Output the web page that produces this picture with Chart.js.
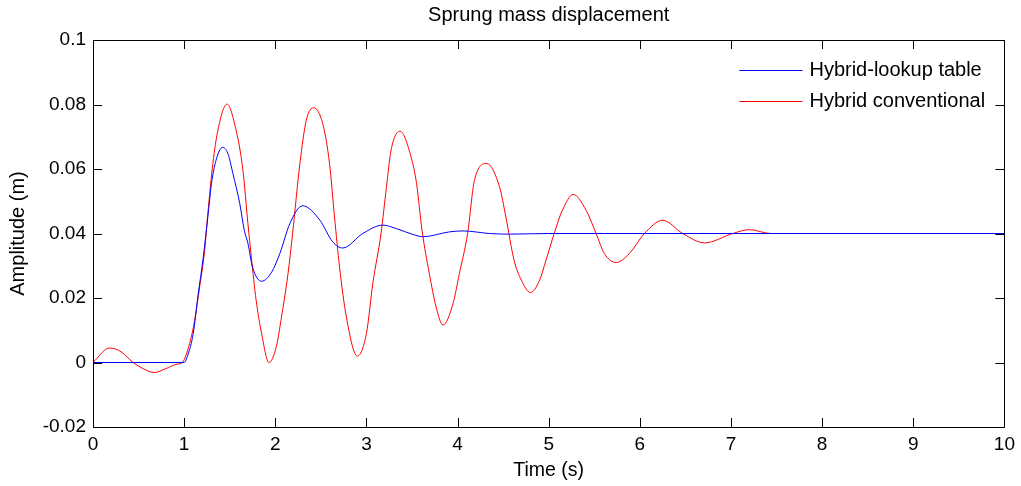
<!DOCTYPE html>
<html>
<head>
<meta charset="utf-8">
<script src="https://cdn.jsdelivr.net/npm/chart.js@4"></script>
<style>
  html, body { margin: 0; padding: 0; background: #fff; }
</style>
</head>
<body>
<canvas id="c" width="1021" height="486"></canvas>
<script>
// ---------- data ----------
const chartTitle = 'Sprung mass displacement';
const xLabel = 'Time (s)';
const yLabel = 'Amplitude (m)';
const seriesNames = ['Hybrid-lookup table', 'Hybrid conventional'];

// Hybrid-lookup table (blue)
const blueTime = [0, 1.0, 1.04, 1.10, 1.15, 1.21, 1.26, 1.30, 1.35, 1.42, 1.48, 1.535, 1.61, 1.66, 1.70, 1.75,
  1.85, 1.96, 2.05, 2.16, 2.30, 2.49, 2.63, 2.74, 2.96, 3.18, 3.33, 3.51, 3.62, 3.91, 4.06, 4.35, 4.57, 5.0, 10];
const blueAmp = [0, 0, 0.0023, 0.009, 0.0203, 0.0327, 0.0451, 0.0555, 0.0627, 0.0667, 0.0648, 0.0586, 0.0493, 0.041, 0.0369, 0.0296,
  0.0252, 0.028, 0.0338, 0.0431, 0.0486, 0.0441, 0.0374, 0.0355, 0.040, 0.0426, 0.0415, 0.0397, 0.039, 0.0405, 0.0408, 0.040, 0.0398, 0.040, 0.040];

// Hybrid conventional (red)
const redTime = [0, 0.18, 0.31, 0.44, 0.55, 0.67, 0.80, 0.91, 0.98, 1.06, 1.115, 1.17, 1.225, 1.26, 1.315, 1.37, 1.47,
  1.57, 1.645, 1.70, 1.737, 1.79, 1.85, 1.93, 2.01, 2.08, 2.14, 2.19, 2.27, 2.34, 2.42, 2.52, 2.595, 2.65, 2.705, 2.78, 2.90,
  3.0, 3.07, 3.16, 3.22, 3.27, 3.37, 3.49, 3.55, 3.61, 3.69, 3.765, 3.84, 3.95, 4.02, 4.11, 4.185, 4.32, 4.46, 4.53,
  4.62, 4.70, 4.80, 4.90, 4.97, 5.06, 5.15, 5.27, 5.41, 5.52, 5.61, 5.74, 5.885, 6.05, 6.25, 6.47, 6.71, 7.02, 7.2, 7.44, 10];
const redAmp = [0, 0.0045, 0.0033, 0, -0.0019, -0.0031, -0.0019, -0.0006, 0, 0.0059, 0.013, 0.0234, 0.0348, 0.0462, 0.0617, 0.072, 0.0801,
  0.072, 0.0596, 0.043, 0.0327, 0.0193, 0.009, 0, 0.0048, 0.0162, 0.0276, 0.040, 0.0617, 0.0751, 0.079, 0.0741, 0.0617, 0.0451, 0.0296, 0.0141, 0.002,
  0.009, 0.0245, 0.040, 0.0545, 0.0658, 0.0717, 0.0637, 0.0555, 0.041, 0.0276, 0.0172, 0.0116, 0.0183, 0.0276, 0.040, 0.0565, 0.0617, 0.0545, 0.0451,
  0.0317, 0.0255, 0.0217, 0.0255, 0.0317, 0.040, 0.0472, 0.0521, 0.0472, 0.040, 0.0338, 0.031, 0.0338, 0.040, 0.0441, 0.040, 0.0371, 0.040, 0.0412, 0.040, 0.040];

const xMin = 0, xMax = 10, xStep = 1;
const yMin = -0.02, yMax = 0.1, yStep = 0.02;

const FONT = 'Liberation Sans, Arial, Helvetica, sans-serif';

function toPoints(xs, ys) {
  return xs.map((x, i) => ({ x: x, y: ys[i] }));
}

// ---------- MATLAB-style frame, inward ticks, title and legend ----------
const matlabFrame = {
  id: 'matlabFrame',
  afterDraw(chart) {
    const { ctx, chartArea: a, scales } = chart;
    const tick = 9;
    ctx.save();
    ctx.strokeStyle = '#000';
    ctx.lineWidth = 1;
    ctx.beginPath();
    ctx.rect(Math.round(a.left) + 0.5, Math.round(a.top) + 0.5,
             Math.round(a.right - a.left), Math.round(a.bottom - a.top));
    scales.x.ticks.forEach(t => {
      const px = Math.round(scales.x.getPixelForValue(t.value)) + 0.5;
      ctx.moveTo(px, a.bottom); ctx.lineTo(px, a.bottom - tick);
      ctx.moveTo(px, a.top); ctx.lineTo(px, a.top + tick);
    });
    scales.y.ticks.forEach(t => {
      const py = Math.round(scales.y.getPixelForValue(t.value)) + 0.5;
      ctx.moveTo(a.left, py); ctx.lineTo(a.left + tick, py);
      ctx.moveTo(a.right, py); ctx.lineTo(a.right - tick, py);
    });
    ctx.stroke();

    // title centred over the axes
    ctx.fillStyle = '#000';
    ctx.font = '20px ' + FONT;
    ctx.textAlign = 'center';
    ctx.textBaseline = 'middle';
    ctx.fillText(chartTitle, (a.left + a.right) / 2, 15.5);

    // legend in the top-right corner
    ctx.font = '20px ' + FONT;
    ctx.textAlign = 'left';
    chart.data.datasets.forEach((ds, i) => {
      const y = Math.round(a.top + 30 + i * 30.5) + 0.5;
      const x0 = a.right - 265;
      ctx.strokeStyle = ds.borderColor;
      ctx.beginPath();
      ctx.moveTo(x0, y); ctx.lineTo(x0 + 63, y);
      ctx.stroke();
      ctx.fillStyle = '#000';
      ctx.fillText(ds.label, x0 + 70, y);
    });
    ctx.restore();
  }
};

new Chart(document.getElementById('c').getContext('2d'), {
  type: 'line',
  data: {
    datasets: [
      {
        label: seriesNames[0],
        data: toPoints(blueTime, blueAmp),
        borderColor: '#0000ff',
        borderWidth: 1,
        pointRadius: 0,
        cubicInterpolationMode: 'monotone',
        fill: false
      },
      {
        label: seriesNames[1],
        data: toPoints(redTime, redAmp),
        borderColor: '#ff0000',
        borderWidth: 1,
        pointRadius: 0,
        cubicInterpolationMode: 'monotone',
        fill: false
      }
    ]
  },
  options: {
    responsive: false,
    animation: false,
    devicePixelRatio: 1,
    layout: { padding: { top: 40, right: 15, left: 0, bottom: 0 } },
    plugins: {
      legend: { display: false },
      title: { display: false },
      tooltip: { enabled: false }
    },
    scales: {
      x: {
        type: 'linear',
        min: xMin,
        max: xMax,
        grid: { display: false, drawTicks: false },
        border: { display: false },
        ticks: { stepSize: xStep, color: '#000', padding: 6, font: { family: FONT, size: 19 } },
        title: { display: true, text: xLabel, color: '#000', padding: { top: 0, bottom: 4 }, font: { family: FONT, size: 19.5 } },
        afterFit: s => { s.height = 59; }
      },
      y: {
        min: yMin,
        max: yMax,
        grid: { display: false, drawTicks: false },
        border: { display: false },
        ticks: {
          stepSize: yStep,
          color: '#000',
          padding: 7,
          font: { family: FONT, size: 19 },
          callback: v => String(parseFloat(v.toFixed(2)))
        },
        title: { display: true, text: yLabel, color: '#000', padding: { top: 6, bottom: 0 }, font: { family: FONT, size: 20 } },
        afterFit: s => { s.width = 93; }
      }
    }
  },
  plugins: [matlabFrame]
});
</script>
</body>
</html>
